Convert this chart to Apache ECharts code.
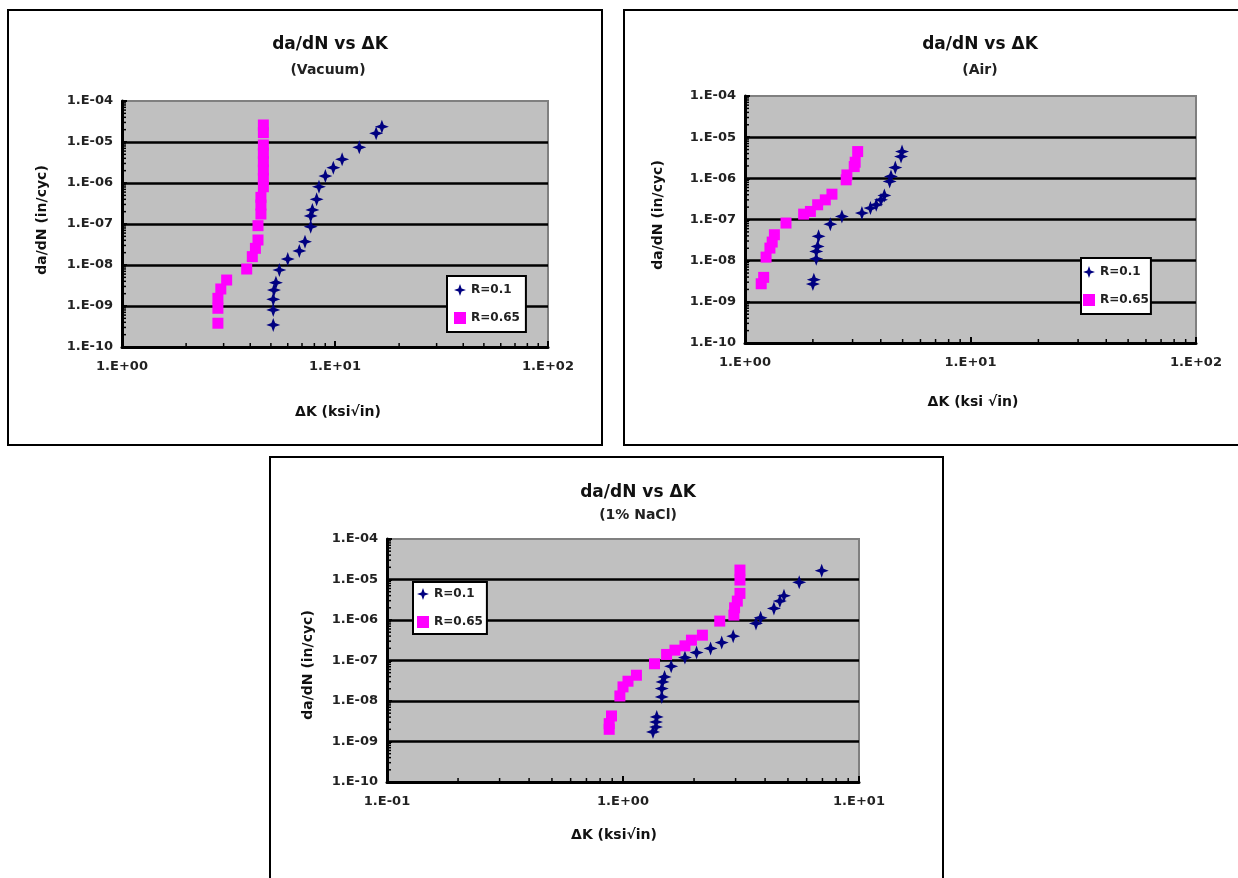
<!DOCTYPE html>
<html><head><meta charset="utf-8">
<script src="https://cdn.jsdelivr.net/npm/echarts@6/dist/echarts.min.js"></script>
<style>html,body{margin:0;padding:0;background:#fff}#c{width:1238px;height:878px}</style>
</head><body><div id="c"></div>
<script>
// ---------- data ----------
const seriesNames = ['R=0.1', 'R=0.65'];
const panelTitles = ['da/dN vs ΔK', 'da/dN vs ΔK', 'da/dN vs ΔK'];
const panelSubtitles = ['(Vacuum)', '(Air)', '(1% NaCl)'];
const yAxisTitle = 'da/dN (in/cyc)';
const xAxisTitles = ['ΔK (ksi√in)', 'ΔK (ksi √in)', 'ΔK (ksi√in)'];
const yTickLabels = ['1.E-10', '1.E-09', '1.E-08', '1.E-07', '1.E-06', '1.E-05', '1.E-04'];
const xTickLabelsAB = ['1.E+00', '1.E+01', '1.E+02'];
const xTickLabelsC = ['1.E-01', '1.E+00', '1.E+01'];
const minorMultipliers = [2, 3, 4, 5, 6, 7, 8, 9];

// Vacuum
const vacR01_dK = [16.6, 15.6, 13.0, 10.8, 9.82, 9.01, 8.41, 8.2, 7.83, 7.69, 7.69, 7.23, 6.80, 6.00, 5.48, 5.28, 5.17, 5.13, 5.13, 5.13];
const vacR01_rate = [2.37e-5, 1.63e-5, 7.4e-6, 3.78e-6, 2.37e-6, 1.48e-6, 8.1e-7, 4.0e-7, 2.2e-7, 1.57e-7, 8.6e-8, 3.7e-8, 2.2e-8, 1.4e-8, 7.55e-9, 3.7e-9, 2.45e-9, 1.46e-9, 8.0e-10, 3.46e-10];
const vacR065_dK = [4.61, 4.61, 4.61, 4.61, 4.61, 4.61, 4.61, 4.61, 4.49, 4.49, 4.49, 4.35, 4.35, 4.23, 4.09, 3.85, 3.10, 2.91, 2.82, 2.82, 2.82];
const vacR065_rate = [2.6e-5, 1.69e-5, 8.45e-6, 5.3e-6, 3.3e-6, 2.07e-6, 1.3e-6, 8.1e-7, 4.47e-7, 2.9e-7, 1.75e-7, 9.1e-8, 4.07e-8, 2.55e-8, 1.6e-8, 7.98e-9, 4.3e-9, 2.6e-9, 1.54e-9, 8.8e-10, 3.8e-10];

// Air
const airR01_dK = [4.97, 4.92, 4.64, 4.44, 4.38, 4.15, 4.01, 3.82, 3.60, 3.30, 2.69, 2.39, 2.12, 2.10, 2.07, 2.07, 2.02, 2.00];
const airR01_rate = [4.47e-6, 3.38e-6, 1.83e-6, 1.11e-6, 8.4e-7, 3.83e-7, 3.0e-7, 2.28e-7, 1.89e-7, 1.43e-7, 1.19e-7, 7.7e-8, 3.9e-8, 2.22e-8, 1.68e-8, 1.11e-8, 3.45e-9, 2.71e-9];
const airR065_dK = [3.16, 3.08, 3.05, 2.83, 2.81, 2.43, 2.27, 2.10, 1.95, 1.82, 1.52, 1.35, 1.32, 1.29, 1.24, 1.21, 1.18];
const airR065_rate = [4.47e-6, 2.46e-6, 1.93e-6, 1.21e-6, 9.2e-7, 4.12e-7, 3.0e-7, 2.28e-7, 1.57e-7, 1.35e-7, 8.2e-8, 4.26e-8, 2.83e-8, 2.02e-8, 1.22e-8, 3.93e-9, 2.75e-9];

// 1% NaCl
const naclR01_dK = [6.95, 5.58, 4.81, 4.62, 4.36, 3.83, 3.66, 2.93, 2.62, 2.35, 2.05, 1.83, 1.60, 1.50, 1.47, 1.46, 1.46, 1.39, 1.38, 1.38, 1.34];
const naclR01_rate = [1.65e-5, 8.5e-6, 3.97e-6, 2.93e-6, 1.93e-6, 1.13e-6, 8.2e-7, 3.99e-7, 2.78e-7, 1.98e-7, 1.57e-7, 1.18e-7, 7.2e-8, 3.94e-8, 2.96e-8, 2.03e-8, 1.26e-8, 4.04e-9, 3.03e-9, 2.28e-9, 1.72e-9];
const naclR065_dK = [3.13, 3.13, 3.13, 3.05, 2.97, 2.95, 2.57, 2.17, 1.95, 1.83, 1.66, 1.53, 1.36, 1.14, 1.05, 1.00, 0.97, 0.894, 0.874, 0.874];
const naclR065_rate = [1.71e-5, 9.7e-6, 4.53e-6, 2.93e-6, 2.0e-6, 1.32e-6, 9.4e-7, 4.22e-7, 3.18e-7, 2.3e-7, 1.8e-7, 1.41e-7, 8.3e-8, 4.33e-8, 3.08e-8, 2.23e-8, 1.33e-8, 4.27e-9, 2.76e-9, 2.0e-9];

// ---------- build ----------
const FONT = '"DejaVu Sans", "Liberation Sans", sans-serif';
const BLUE = '#000080', PINK = '#FF00FF';
const STAR = 'path://M6,0 L7.6,4.4 L12,6 L7.6,7.6 L6,12 L4.4,7.6 L0,6 L4.4,4.4 Z';
const zip = (a, b) => a.map((v, i) => [v, b[i]]);
// split-line colours from the lowest decade to the highest; outer ones hidden so the frame shows
const splitColors = ['rgba(0,0,0,0)', '#000', '#000', '#000', '#000', '#000', 'rgba(0,0,0,0)'];

const panels = [
  { grid: {left: 122, top: 101, width: 426, height: 246}, xr: [1, 100], xLabels: xTickLabelsAB, xOff: 0,
    box: [8, 10, 594, 435], title: [330, 45], sub: [328, 70], xt: [338, 412], yt: [42, 220],
    legend: {left: 447, top: 276, padding: [8, 6, 8, 7]},
    r01: zip(vacR01_dK, vacR01_rate), r065: zip(vacR065_dK, vacR065_rate) },
  { grid: {left: 745, top: 96, width: 451, height: 247}, xr: [1, 100], xLabels: xTickLabelsAB, xOff: 0,
    box: [624, 10, 640, 435], title: [980, 45], sub: [980, 70], xt: [973, 402], yt: [658, 215],
    legend: {left: 1081, top: 258, padding: [8, 2, 8, 2]},
    r01: zip(airR01_dK, airR01_rate), r065: zip(airR065_dK, airR065_rate) },
  { grid: {left: 387, top: 539, width: 472, height: 243}, xr: [0.1, 10], xLabels: xTickLabelsC, xOff: 1,
    box: [270, 457, 673, 440], title: [638, 493], sub: [638, 515], xt: [614, 835], yt: [308, 665],
    legend: {left: 413, top: 582, padding: [6, 4, 6, 4]},
    r01: zip(naclR01_dK, naclR01_rate), r065: zip(naclR065_dK, naclR065_rate) }
];

const option = {
  animation: false,
  backgroundColor: '#fff',
  textStyle: {fontFamily: FONT},
  grid: [], xAxis: [], yAxis: [], series: [], legend: [], graphic: []
};

panels.forEach((p, i) => {
  option.grid.push(Object.assign({show: true, backgroundColor: '#C0C0C0', borderColor: '#808080', borderWidth: 2, containLabel: false}, p.grid));
  option.xAxis.push({
    type: 'log', logBase: 10, gridIndex: i, min: p.xr[0], max: p.xr[1],
    axisLine: {show: true, onZero: false, lineStyle: {color: '#000', width: 3}},
    axisTick: {show: true, inside: true, length: 6, lineStyle: {color: '#000', width: 2}},
    splitLine: {show: false}, minorTick: {show: false},
    axisLabel: {margin: 13, fontSize: 13, fontWeight: 'bold', color: '#222', fontFamily: FONT,
      formatter: v => p.xLabels[Math.round(Math.log10(v)) + p.xOff]}
  });
  option.yAxis.push({
    type: 'log', logBase: 10, gridIndex: i, min: 1e-10, max: 1e-4,
    axisLine: {show: true, onZero: false, lineStyle: {color: '#000', width: 3}},
    axisTick: {show: true, inside: true, length: 5, lineStyle: {color: '#000', width: 2}},
    splitLine: {show: true, lineStyle: {color: splitColors, width: 2.5}},
    minorTick: {show: false},
    axisLabel: {margin: 9, fontSize: 13, fontWeight: 'bold', color: '#222', fontFamily: FONT,
      formatter: v => yTickLabels[Math.round(Math.log10(v)) + 10]}
  });
  // minor ticks on log scales (values 2..9 x 10^n), positioned through the axes
  const minorData = [];
  for (let e = Math.round(Math.log10(p.xr[0])); e < Math.round(Math.log10(p.xr[1])); e++)
    minorMultipliers.forEach(m => minorData.push([m * Math.pow(10, e), 1e-10, 0]));
  for (let e = -10; e < -4; e++)
    minorMultipliers.forEach(m => minorData.push([p.xr[0], m * Math.pow(10, e), 1]));
  option.series.push({
    type: 'custom', xAxisIndex: i, yAxisIndex: i, silent: true, clip: false, z: 5,
    data: minorData,
    renderItem: (params, api) => {
      const pt = api.coord([api.value(0), api.value(1)]);
      const isX = api.value(2) === 0;
      return {type: 'line', shape: isX ? {x1: pt[0], y1: pt[1], x2: pt[0], y2: pt[1] - 4}
                                        : {x1: pt[0], y1: pt[1], x2: pt[0] + 4, y2: pt[1]},
              style: {stroke: '#000', lineWidth: 1.5}};
    }
  });
  option.series.push({name: seriesNames[0], type: 'scatter', xAxisIndex: i, yAxisIndex: i,
    symbol: STAR, symbolSize: 14, itemStyle: {color: BLUE, opacity: 1}, data: p.r01, z: 3});
  option.series.push({name: seriesNames[1], type: 'scatter', xAxisIndex: i, yAxisIndex: i,
    symbol: 'rect', symbolSize: 11, itemStyle: {color: PINK, opacity: 1}, data: p.r065, z: 4});
  option.legend.push(Object.assign({
    orient: 'vertical', data: seriesNames, itemWidth: 12, itemHeight: 12, itemGap: 16,
    backgroundColor: '#fff', borderColor: '#000', borderWidth: 2, borderRadius: 0,
    selectedMode: false, textStyle: {fontSize: 12, fontWeight: 'bold', color: '#222', fontFamily: FONT},
  }, p.legend));
  // panel frame and texts
  option.graphic.push({type: 'rect', silent: true, z: 100,
    shape: {x: p.box[0], y: p.box[1], width: p.box[2], height: p.box[3]},
    style: {fill: 'none', stroke: '#000', lineWidth: 2}});
  option.graphic.push({type: 'text', x: p.title[0], y: p.title[1], z: 100,
    style: {text: panelTitles[i], font: 'bold 17px ' + FONT, fill: '#111', textAlign: 'center', textVerticalAlign: 'middle'}});
  option.graphic.push({type: 'text', x: p.sub[0], y: p.sub[1], z: 100,
    style: {text: panelSubtitles[i], font: 'bold 14px ' + FONT, fill: '#222', textAlign: 'center', textVerticalAlign: 'middle'}});
  option.graphic.push({type: 'text', x: p.xt[0], y: p.xt[1], z: 100,
    style: {text: xAxisTitles[i], font: 'bold 14px ' + FONT, fill: '#111', textAlign: 'center', textVerticalAlign: 'middle'}});
  option.graphic.push({type: 'text', x: p.yt[0], y: p.yt[1], rotation: Math.PI / 2, z: 100,
    style: {text: yAxisTitle, font: 'bold 14px ' + FONT, fill: '#111', textAlign: 'center', textVerticalAlign: 'middle'}});
});

const chart = echarts.init(document.getElementById('c'), null, {renderer: 'canvas'});
chart.setOption(option);
</script></body></html>
